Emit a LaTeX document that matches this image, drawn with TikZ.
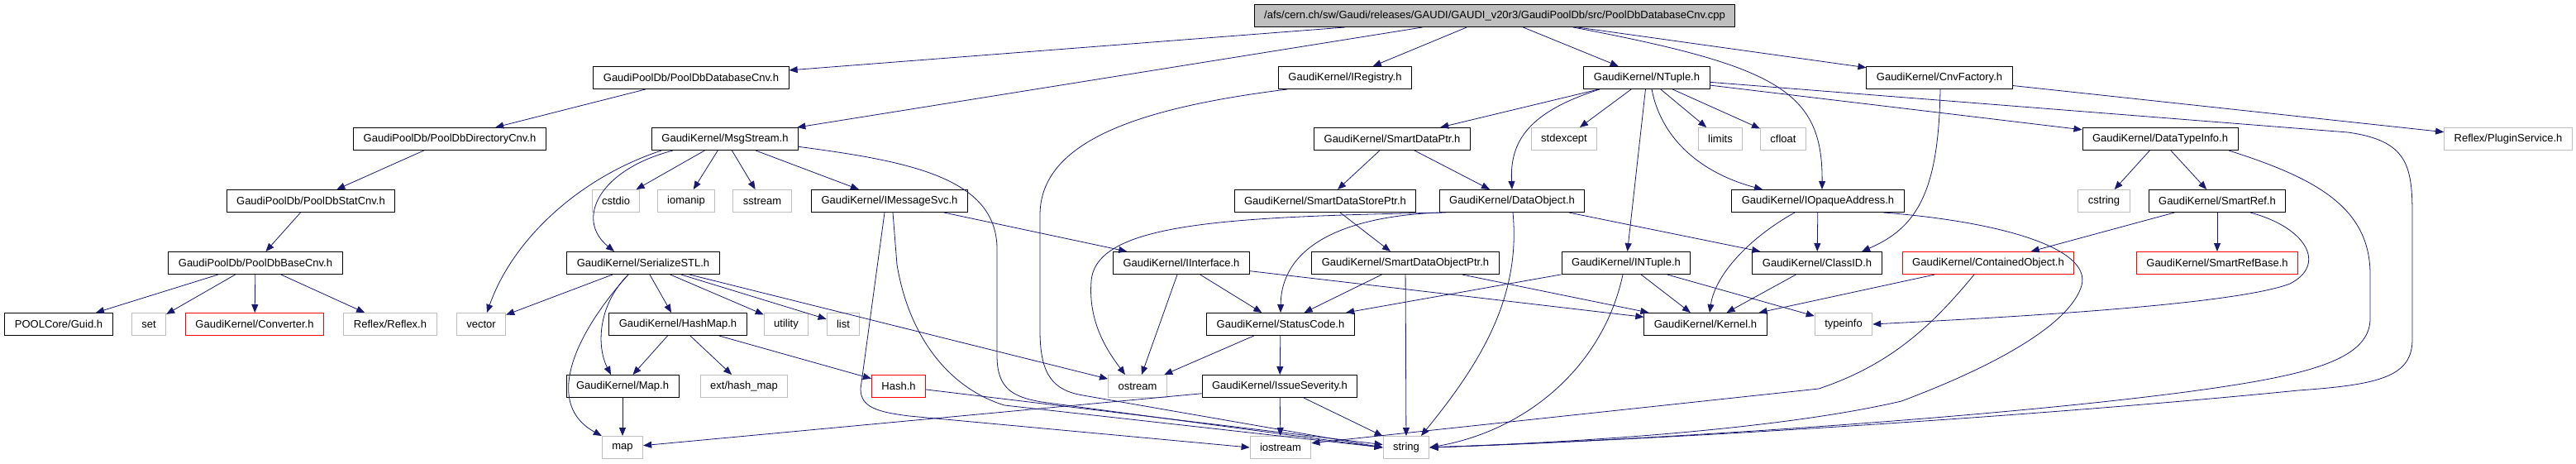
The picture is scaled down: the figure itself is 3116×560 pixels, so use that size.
\documentclass[tikz,border=0pt]{standalone}
\usepackage{fontspec}
\setmainfont{Liberation Sans}
\usetikzlibrary{arrows.meta}
\definecolor{edgeblue}{HTML}{191970}
\definecolor{sysgray}{HTML}{BFBFBF}
\definecolor{nodocred}{HTML}{FF0000}

\begin{document}
\begin{tikzpicture}[x=1pt,y=-1pt,
  hdr/.style={draw=black,line width=1pt,minimum height=27pt,inner xsep=12pt,inner ysep=0pt,font=\fontsize{13}{15}\selectfont},
  sys/.style={hdr,draw=sysgray},
  nodoc/.style={hdr,draw=nodocred},
  dep/.style={edgeblue,line width=0.8pt,-{Triangle[length=10pt,width=8pt]}}]
\useasboundingbox (0,0) rectangle (3116,560);
\node[hdr,fill=sysgray] (root) at (1808,19) {/afs/cern.ch/sw/Gaudi/releases/GAUDI/GAUDI\_v20r3/GaudiPoolDb/src/PoolDbDatabaseCnv.cpp};
\node[hdr] (dbcnv) at (836,94) {GaudiPoolDb/PoolDbDatabaseCnv.h};
\node[hdr] (ireg) at (1627,94) {GaudiKernel/IRegistry.h};
\node[hdr] (ntuple) at (1992,94) {GaudiKernel/NTuple.h};
\node[hdr] (cnvfac) at (2346,94) {GaudiKernel/CnvFactory.h};
\node[hdr] (dircnv) at (544,168) {GaudiPoolDb/PoolDbDirectoryCnv.h};
\node[hdr] (msgstr) at (877,168) {GaudiKernel/MsgStream.h};
\node[hdr] (sdptr) at (1684,168) {GaudiKernel/SmartDataPtr.h};
\node[sys] (stdexcept) at (1892,168) {stdexcept};
\node[sys] (limits) at (2081,168) {limits};
\node[sys] (cfloat) at (2157,168) {cfloat};
\node[hdr] (dtinfo) at (2613,168) {GaudiKernel/DataTypeInfo.h};
\node[sys] (plugin) at (3034,168) {Reflex/PluginService.h};
\node[hdr] (statcnv) at (376,243) {GaudiPoolDb/PoolDbStatCnv.h};
\node[sys] (cstdio) at (745,243) {cstdio};
\node[sys] (iomanip) at (830,243) {iomanip};
\node[sys] (sstream) at (922,243) {sstream};
\node[hdr] (imsg) at (1076,243) {GaudiKernel/IMessageSvc.h};
\node[hdr] (sdsptr) at (1603,243) {GaudiKernel/SmartDataStorePtr.h};
\node[hdr] (dataobj) at (1829,243) {GaudiKernel/DataObject.h};
\node[hdr] (iopaque) at (2199,243) {GaudiKernel/IOpaqueAddress.h};
\node[sys] (cstring) at (2545,243) {cstring};
\node[hdr] (smartref) at (2682,243) {GaudiKernel/SmartRef.h};
\node[hdr] (basecnv) at (309,318) {GaudiPoolDb/PoolDbBaseCnv.h};
\node[hdr] (sstl) at (778,318) {GaudiKernel/SerializeSTL.h};
\node[hdr] (iiface) at (1429,318) {GaudiKernel/IInterface.h};
\node[hdr] (sdoptr) at (1700,318) {GaudiKernel/SmartDataObjectPtr.h};
\node[hdr] (intuple) at (1967,318) {GaudiKernel/INTuple.h};
\node[hdr] (classid) at (2198,318) {GaudiKernel/ClassID.h};
\node[nodoc] (contobj) at (2405,318) {GaudiKernel/ContainedObject.h};
\node[nodoc] (srbase) at (2682,318) {GaudiKernel/SmartRefBase.h};
\node[hdr] (guid) at (71,392) {POOLCore/Guid.h};
\node[sys] (set) at (180,392) {set};
\node[nodoc] (converter) at (308,392) {GaudiKernel/Converter.h};
\node[sys] (reflex) at (472,392) {Reflex/Reflex.h};
\node[sys] (vector) at (582,392) {vector};
\node[hdr] (hashmap) at (820,392) {GaudiKernel/HashMap.h};
\node[sys] (utility) at (951,392) {utility};
\node[sys] (list) at (1020,392) {list};
\node[hdr] (statcode) at (1549,392) {GaudiKernel/StatusCode.h};
\node[hdr] (kernel) at (2063,392) {GaudiKernel/Kernel.h};
\node[sys] (typeinfo) at (2230,392) {typeinfo};
\node[hdr] (maph) at (753,467) {GaudiKernel/Map.h};
\node[sys] (hashext) at (900,467) {ext/hash\_map};
\node[nodoc] (hashh) at (1087,467) {Hash.h};
\node[sys] (ostream) at (1376,467) {ostream};
\node[hdr] (issue) at (1548,467) {GaudiKernel/IssueSeverity.h};
\node[sys] (map) at (753,541) {map};
\node[sys] (iostream) at (1549,541) {iostream};
\node[sys] (string) at (1701,541) {string};

\draw[dep] (root) -- (dbcnv);
\draw[dep] (root) -- (msgstr);
\draw[dep] (root) -- (ireg);
\draw[dep] (root) -- (ntuple);
\draw[dep] (root) -- (cnvfac);
\draw[dep] ([xshift=95pt]root.south) .. controls (2150,80) and (2205,110) .. ([xshift=5pt]iopaque.north);
\draw[dep] (dbcnv) -- (dircnv);
\draw[dep] (dircnv) -- (statcnv);
\draw[dep] (statcnv) -- (basecnv);
\draw[dep] (basecnv) -- (guid);
\draw[dep] (basecnv) -- (set);
\draw[dep] (basecnv) -- (converter);
\draw[dep] (basecnv) -- (reflex);
\draw[dep] (msgstr) -- (cstdio);
\draw[dep] (msgstr) -- (iomanip);
\draw[dep] (msgstr) -- (sstream);
\draw[dep] (msgstr) -- (imsg);
\draw[dep] ([xshift=-63pt]msgstr.south) .. controls (725,205) and (695,265) .. ([xshift=-35pt]sstl.north);
\draw[dep] ([xshift=-77pt]msgstr.south) .. controls (700,215) and (620,290) .. ([xshift=7pt]vector.north);
\draw[dep] (msgstr.-6) .. controls (1100,195) and (1205,215) .. (1206,300) -- (1206,430) .. controls (1206,470) and (1225,480) .. (1260,486) -- (string.west);
\draw[dep] ([xshift=-70pt]ireg.south) .. controls (1380,130) and (1258,170) .. (1258,260) -- (1258,400) .. controls (1258,455) and (1275,472) .. (1310,478) -- (string.west);
\draw[dep] (ntuple) -- (sdptr);
\draw[dep] (ntuple) -- (stdexcept);
\draw[dep] (ntuple) -- (intuple);
\draw[dep] (ntuple) -- (limits);
\draw[dep] (ntuple) -- (cfloat);
\draw[dep] (ntuple) -- (dtinfo);
\draw[dep] ([xshift=-57pt]ntuple.south) .. controls (1850,135) and (1826,170) .. (dataobj.north);
\draw[dep] ([xshift=6pt]ntuple.south) .. controls (2010,170) and (2060,210) .. ([xshift=-67pt]iopaque.north);
\draw[dep] (ntuple.-4) -- (2840,160) .. controls (2912,170) and (2918,200) .. (2918,260) -- (2918,410) .. controls (2918,455) and (2880,465) .. (2780,472) .. controls (2500,500) and (2050,530) .. (string.east);
\draw[dep] (cnvfac) -- (plugin);
\draw[dep] ([xshift=1pt]cnvfac.south) .. controls (2345,230) and (2320,275) .. ([xshift=54pt]classid.north);
\draw[dep] (dtinfo) -- (cstring);
\draw[dep] (dtinfo) -- (smartref);
\draw[dep] ([xshift=83pt]dtinfo.south) .. controls (2800,215) and (2866,250) .. (2867,330) -- (2867,385) .. controls (2867,420) and (2830,440) .. (2760,455) .. controls (2600,490) and (2100,528) .. (string.east);
\draw[dep] (sdptr) -- (sdsptr);
\draw[dep] (sdptr) -- (dataobj);
\draw[dep] (imsg) -- (iiface);
\draw[dep] ([xshift=-6pt]imsg.south) -- (1041,470) .. controls (1041,492) and (1060,498) .. (1100,503) -- (iostream.west);
\draw[dep] ([xshift=4pt]imsg.south) -- (1085,320) .. controls (1100,410) and (1150,470) .. (1215,490) -- (string.west);
\draw[dep] (sdsptr) -- (sdoptr);
\draw[dep] (dataobj) -- (classid);
\draw[dep] (dataobj.south west) .. controls (1620,262) and (1550,300) .. (statcode.north);
\draw[dep] ([xshift=-80pt]dataobj.south) .. controls (1480,262) and (1325,270) .. (1320,340) .. controls (1316,390) and (1340,425) .. ([xshift=-15pt]ostream.north);
\draw[dep] ([xshift=1pt]dataobj.south) .. controls (1840,360) and (1790,440) .. ([xshift=18pt]string.north);
\draw[dep] (iopaque) -- (classid);
\draw[dep] ([xshift=-28pt]iopaque.south) .. controls (2120,285) and (2075,330) .. ([xshift=5pt]kernel.north);
\draw[dep] (iopaque.-10) .. controls (2420,268) and (2530,300) .. (2518,345) .. controls (2505,390) and (2420,440) .. (2300,485) .. controls (2150,520) and (1900,535) .. (string.east);
\draw[dep] (smartref) -- (contobj);
\draw[dep] (smartref) -- (srbase);
\draw[dep] ([xshift=40pt]smartref.south) .. controls (2790,275) and (2815,320) .. (2770,343) .. controls (2700,370) and (2400,385) .. (typeinfo.east);
\draw[dep] (sstl) -- (vector);
\draw[dep] (sstl) -- (hashmap);
\draw[dep] (sstl) -- (utility);
\draw[dep] (sstl) -- (list);
\draw[dep] (sstl) -- (ostream);
\draw[dep] ([xshift=-18pt]sstl.south) .. controls (690,410) and (660,490) .. (map.north west);
\draw[dep] ([xshift=-18pt]sstl.south) .. controls (722,370) and (722,420) .. ([xshift=-14pt]maph.north);
\draw[dep] (iiface) -- (ostream);
\draw[dep] (iiface) -- (statcode);
\draw[dep] (iiface) -- (kernel);
\draw[dep] (sdoptr) -- (statcode);
\draw[dep] (sdoptr) -- (kernel);
\draw[dep] (sdoptr) -- (string);
\draw[dep] (intuple) -- (statcode);
\draw[dep] (intuple) -- (kernel);
\draw[dep] (intuple) -- (typeinfo);
\draw[dep] ([xshift=-4pt]intuple.south) .. controls (1940,440) and (1850,520) .. (string.east);
\draw[dep] (classid) -- (kernel);
\draw[dep] (contobj) -- (kernel);
\draw[dep] ([xshift=-17pt]contobj.south) .. controls (2340,390) and (2290,440) .. (2200,470) -- (iostream.8);
\draw[dep] (hashmap) -- (maph);
\draw[dep] (hashmap) -- (hashext);
\draw[dep] (hashmap) -- (hashh);
\draw[dep] (statcode) -- (ostream);
\draw[dep] (statcode) -- (issue);
\draw[dep] (maph) -- (map);
\draw[dep] (hashh) -- (string);
\draw[dep] (issue) -- (map);
\draw[dep] (issue) -- (iostream);
\draw[dep] (issue) -- (string);
\end{tikzpicture}
\end{document}
